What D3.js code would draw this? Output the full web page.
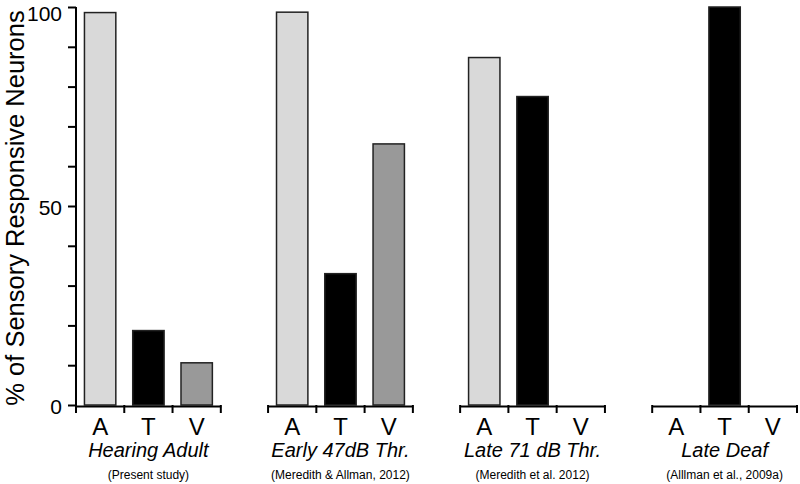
<!DOCTYPE html>
<html><head><meta charset="utf-8">
<script src="https://cdn.jsdelivr.net/npm/d3@7"></script>
<style>
html,body{margin:0;padding:0;background:#fff;}
text{font-family:"Liberation Sans",Arial,sans-serif;fill:#000;}
</style></head>
<body><svg id="chart" width="800" height="484"></svg>
<script>
const groups = ["Hearing Adult", "Early 47dB Thr.", "Late 71 dB Thr.", "Late Deaf"];
const citations = ["(Present study)", "(Meredith & Allman, 2012)", "(Meredith et al. 2012)", "(Alllman et al., 2009a)"];
const categories = ["A", "T", "V"];
const valuesA = [98.6, 98.7, 87.3, 0];
const valuesT = [18.7, 33.0, 77.5, 100];
const valuesV = [10.6, 65.6, 0, 0];
const yTicks = [0, 10, 20, 30, 40, 50, 60, 70, 80, 90, 100];
const yLabels = [0, 50, 100];
const colors = {A: "#d9d9d9", T: "#000000", V: "#999999"};

const series = {A: valuesA, T: valuesT, V: valuesV};
const svg = d3.select("#chart");

const y = d3.scaleLinear().domain([0, 100]).range([405, 7]);
const x0 = d3.scaleBand().domain(groups).range([76, 797]).paddingInner(0.246).paddingOuter(0);
const x1 = d3.scaleBand().domain(categories).range([0, x0.bandwidth()]).padding(0);
const barFrac = 0.65;

// y axis
const yAxis = d3.axisLeft(y).tickValues(yTicks)
  .tickFormat(d => yLabels.includes(d) ? d : "")
  .tickSize(8).tickSizeOuter(0).tickPadding(6);
const ya = svg.append("g").attr("transform", "translate(76,0)").call(yAxis);
ya.selectAll("path.domain").remove();
ya.selectAll("line").attr("stroke", "#000").attr("stroke-width", 2);
ya.append("line").attr("x1", 0).attr("x2", 0).attr("y1", y(100)).attr("y2", y(0) + 8)
  .attr("stroke", "#000").attr("stroke-width", 2);
ya.selectAll("text").style("font-size", "21px").style("font-family", "Liberation Sans, Arial, sans-serif").attr("fill", "#000")
  .attr("dy", d => d === 100 ? "0.62em" : "0.42em");

// y title
svg.append("text")
  .attr("transform", `translate(24,${(y(0) + y(100)) / 2 + 2}) rotate(-90)`)
  .attr("text-anchor", "middle")
  .style("font-size", "25.5px")
  .text("% of Sensory Responsive Neurons");

groups.forEach((g, gi) => {
  const gx = x0(g);
  const gg = svg.append("g").attr("transform", `translate(${gx},0)`);
  // bars
  categories.forEach(c => {
    const v = series[c][gi];
    if (v <= 0) return;
    const bw = x1.bandwidth() * barFrac;
    gg.append("rect")
      .attr("x", x1(c) + (x1.bandwidth() - bw) / 2)
      .attr("y", y(v))
      .attr("width", bw)
      .attr("height", y(0) - y(v))
      .attr("fill", colors[c])
      .attr("stroke", "#222")
      .attr("stroke-width", 1.5);
  });
  // bottom axis
  const xa = d3.axisBottom(x1).tickSize(0).tickSizeOuter(0).tickPadding(12);
  const axg = gg.append("g").attr("transform", `translate(0,${y(0) + 1})`).call(xa);
  axg.select("path.domain").attr("stroke", "#000").attr("stroke-width", 2);
  axg.selectAll("text").style("font-size", "24px").style("font-family", "Liberation Sans, Arial, sans-serif").attr("fill", "#000");
  const bounds = categories.map(c => x1(c)).concat([x0.bandwidth()]);
  axg.selectAll("line.sep").data(bounds).enter().append("line")
    .attr("class", "sep")
    .attr("x1", d => d).attr("x2", d => d).attr("y1", -1).attr("y2", 7)
    .attr("stroke", "#000").attr("stroke-width", 2);
  // group title
  gg.append("text").attr("x", x0.bandwidth() / 2).attr("y", 457)
    .attr("text-anchor", "middle").style("font-size", "20px").style("font-style", "italic")
    .text(g);
  gg.append("text").attr("x", x0.bandwidth() / 2).attr("y", 479)
    .attr("text-anchor", "middle").style("font-size", "12px")
    .text(citations[gi]);
});
</script></body></html>
